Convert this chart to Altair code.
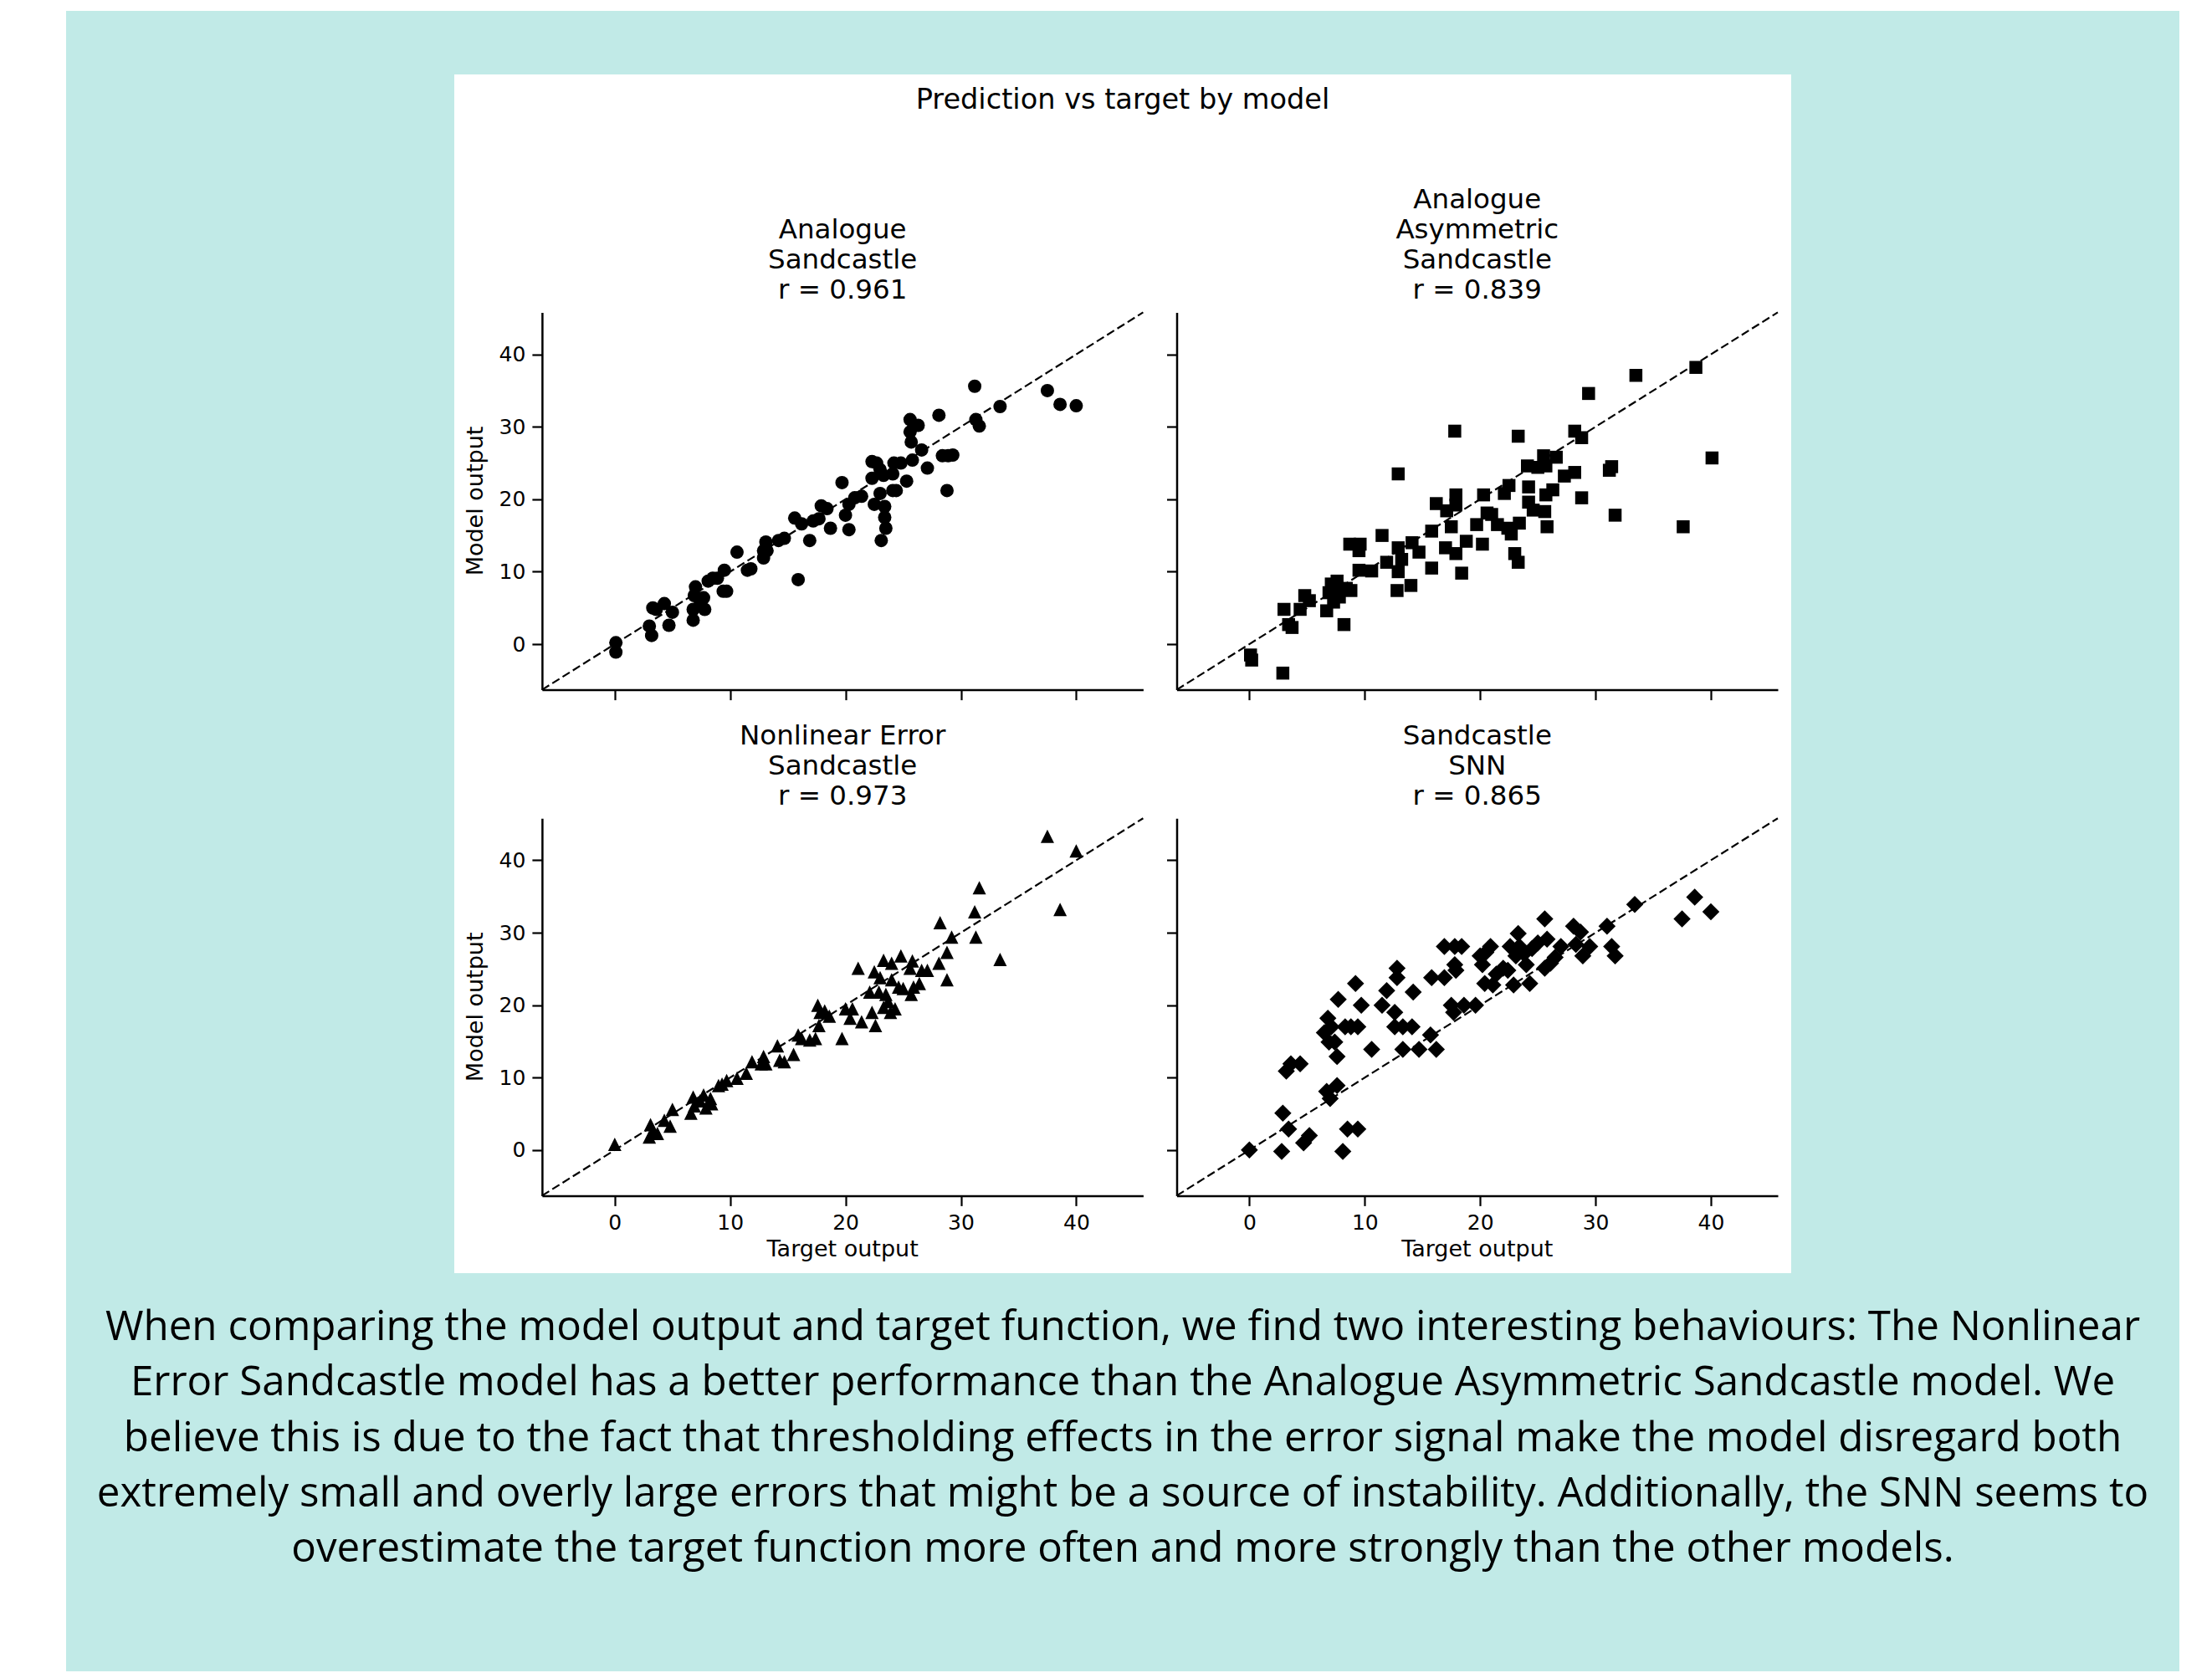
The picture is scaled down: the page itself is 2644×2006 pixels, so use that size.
import altair as alt
import pandas as pd

W, H = 2628, 1990

# ---------------- data ----------------
analogue_target = [0.1, 0.1, 3.0, 3.2, 3.3, 4.3, 4.7, 5.0, 3.6, 6.8,
                   6.8, 6.9, 7.0, 7.4, 7.8, 7.7, 8.1, 8.5, 8.9, 9.4,
                   9.5, 9.7, 10.6, 11.5, 11.8, 12.9, 12.9, 13.1, 13.2, 14.2,
                   14.7, 15.6, 15.9, 16.2, 16.9, 17.2, 17.7, 17.9, 18.4, 18.7,
                   19.7, 20.0, 20.3, 20.3, 20.8, 21.4, 22.3, 22.3, 22.5, 22.7,
                   23.0, 23.1, 23.0, 23.3, 23.4, 23.4, 23.5, 24.1, 24.2, 24.1,
                   24.4, 24.8, 25.3, 25.6, 25.6, 25.7, 25.8, 26.3, 26.6, 27.1,
                   28.1, 28.4, 28.8, 28.9, 29.3, 31.2, 31.3, 31.6, 33.4, 37.5,
                   38.6, 40.0]
analogue_output = [0.2, -1.1, 2.5, 1.2, 5.0, 5.6, 2.6, 4.4, 4.8, 3.3,
                   4.8, 6.7, 7.9, 6.0, 4.8, 6.4, 8.7, 9.1, 9.1, 7.3,
                   10.2, 7.3, 12.7, 10.2, 10.4, 11.9, 12.9, 14.1, 12.9, 14.3,
                   14.6, 17.4, 8.9, 16.6, 14.3, 17.0, 17.3, 19.1, 18.7, 16.0,
                   22.3, 17.8, 15.8, 19.3, 20.2, 20.4, 22.9, 25.2, 19.3, 25.0,
                   24.1, 14.3, 20.8, 23.3, 19.0, 17.5, 16.0, 23.5, 25.0, 21.2,
                   21.2, 25.0, 22.5, 31.0, 29.3, 27.9, 25.4, 30.2, 26.8, 24.3,
                   31.6, 26.0, 21.2, 26.0, 26.1, 35.6, 31.0, 30.1, 32.8, 35.0,
                   33.1, 32.9]

asym_target = [0.1, 0.2, 2.9, 3.0, 3.4, 3.7, 4.4, 4.8, 5.2, 6.7,
               6.9, 7.1, 7.3, 7.5, 7.6, 7.8, 8.2, 8.4, 8.8, 8.7,
               9.5, 9.6, 9.5, 10.6, 11.5, 11.9, 12.9, 12.9, 12.9, 12.8,
               13.2, 14.0, 14.1, 14.7, 15.8, 15.8, 16.2, 17.0, 17.1, 17.5,
               17.8, 17.9, 17.9, 17.9, 18.4, 18.8, 19.7, 20.2, 20.3, 20.6,
               21.0, 21.5, 22.1, 22.5, 22.4, 22.7, 23.0, 23.3, 23.3, 23.4,
               24.1, 24.2, 24.2, 24.6, 25.0, 25.5, 25.7, 25.7, 25.6, 25.8,
               26.3, 26.6, 27.3, 28.2, 28.2, 28.8, 28.8, 29.4, 31.2, 31.4,
               31.7, 33.5, 37.6, 38.7, 40.1]
asym_output = [-1.5, -2.2, -4.0, 4.8, 2.7, 2.3, 4.8, 6.7, 6.0, 4.6,
               7.1, 8.3, 5.8, 7.5, 8.7, 6.5, 2.7, 7.7, 7.4, 13.8,
               12.9, 13.8, 10.2, 10.1, 15.0, 11.3, 23.5, 13.3, 10.0, 7.4,
               11.7, 8.1, 14.0, 12.7, 10.5, 15.6, 19.4, 13.3, 18.4, 16.2,
               29.4, 20.6, 19.2, 12.5, 9.8, 14.2, 16.5, 13.8, 20.6, 18.1,
               17.9, 16.5, 20.8, 21.9, 16.0, 15.2, 12.5, 11.3, 28.7, 16.7,
               24.6, 21.7, 19.6, 18.5, 24.4, 26.0, 24.6, 20.6, 18.3, 16.2,
               21.3, 25.8, 23.2, 23.7, 29.4, 28.5, 20.2, 34.6, 24.0, 24.5,
               17.8, 37.1, 16.2, 38.2, 25.7]

nonlin_target = [0.0, 3.0, 3.1, 3.3, 3.7, 4.3, 4.8, 5.0, 6.6, 6.8,
                 6.9, 7.4, 7.7, 7.9, 8.3, 8.4, 9.0, 9.3, 9.7, 10.6,
                 11.4, 11.9, 12.7, 12.9, 13.1, 14.1, 14.3, 14.7, 15.5, 15.9,
                 16.2, 16.9, 17.4, 17.6, 17.7, 17.8, 18.2, 18.6, 19.7, 20.0,
                 20.4, 20.6, 21.1, 21.4, 22.1, 22.3, 22.5, 22.6, 22.9, 23.0,
                 23.3, 23.3, 23.5, 23.7, 23.9, 24.0, 24.0, 24.3, 24.6, 24.8,
                 25.0, 25.6, 25.8, 25.7, 25.9, 26.4, 26.6, 27.1, 28.1, 28.2,
                 28.8, 28.8, 29.2, 31.2, 31.3, 31.6, 33.4, 37.5, 38.6, 40.0]
nonlin_output = [0.8, 1.8, 3.5, 2.5, 2.3, 4.1, 3.3, 5.6, 5.1, 7.3,
                 6.1, 6.8, 7.6, 5.8, 7.1, 6.4, 8.9, 9.1, 9.6, 9.9,
                 10.6, 12.2, 11.9, 12.9, 11.9, 14.4, 12.4, 12.2, 13.2, 15.9,
                 15.4, 15.2, 15.4, 20.0, 17.2, 19.0, 19.2, 18.5, 15.4, 19.5,
                 18.2, 19.5, 25.1, 17.7, 21.8, 19.0, 24.6, 17.2, 21.8, 23.8,
                 26.2, 19.7, 21.5, 20.5, 19.0, 23.5, 25.8, 19.5, 22.5, 26.8,
                 22.3, 25.1, 26.1, 21.5, 22.5, 23.0, 24.8, 24.8, 25.8, 31.4,
                 27.3, 23.5, 29.4, 32.9, 29.4, 36.2, 26.3, 43.3, 33.2, 41.3]

snn_target = [0.0, 2.9, 3.4, 2.8, 3.2, 3.6, 4.4, 4.7, 5.2, 6.7,
              7.0, 7.6, 6.8, 6.5, 6.9, 7.1, 7.4, 7.6, 7.7, 8.1,
              8.5, 8.3, 8.8, 9.2, 9.4, 9.4, 9.7, 10.6, 11.5, 11.9,
              12.6, 12.8, 12.8, 12.6, 13.3, 13.3, 14.1, 14.2, 14.7, 15.7,
              15.8, 16.2, 16.9, 16.9, 17.5, 17.7, 17.8, 17.8, 17.9, 18.4,
              18.6, 19.6, 20.0, 20.2, 20.4, 20.5, 20.9, 21.1, 21.4, 22.0,
              22.4, 22.6, 22.9, 23.3, 23.1, 23.4, 23.8, 24.0, 24.3, 24.5,
              25.0, 25.6, 25.6, 25.8, 26.1, 26.5, 27.0, 28.1, 28.3, 28.7,
              28.9, 29.5, 31.0, 31.4, 31.7, 33.4, 37.5, 38.6, 40.0]
snn_output = [0.0, 5.1, 2.9, -0.2, 10.9, 11.9, 11.9, 1.0, 2.0, 8.1,
              7.1, 8.9, 18.2, 16.2, 14.9, 17.0, 14.9, 12.9, 20.8, -0.2,
              2.9, 17.0, 17.0, 23.0, 17.0, 2.9, 20.0, 13.9, 20.0, 22.0,
              19.0, 25.1, 23.8, 17.0, 17.0, 13.9, 17.0, 21.8, 13.9, 15.9,
              23.8, 13.9, 23.8, 28.1, 20.0, 19.0, 25.6, 28.1, 24.8, 28.1,
              20.0, 20.0, 26.8, 25.6, 23.0, 27.3, 28.1, 22.8, 24.3, 25.1,
              24.8, 28.1, 22.8, 29.9, 26.8, 28.1, 27.1, 25.6, 23.0, 27.8,
              28.6, 31.9, 25.1, 29.1, 25.8, 26.6, 28.1, 30.9, 28.4, 30.1,
              26.8, 28.1, 30.9, 28.1, 26.8, 33.9, 31.9, 34.9, 32.9]

panel_titles = ["Analogue\n\u00a0Sandcastle\nr = 0.961",
                "Analogue\n\u00a0Asymmetric\n\u00a0Sandcastle\nr = 0.839",
                "Nonlinear Error\n\u00a0Sandcastle\nr = 0.973",
                "Sandcastle\n\u00a0SNN\nr = 0.865"]

axis_limits = [-6.3, 45.8]
tick_values = [0, 10, 20, 30, 40]

main_title = "Prediction vs target by model"
x_title = "Target output"
y_title = "Model output"
caption = ("When comparing the model output and target function, we find two interesting behaviours: The Nonlinear\n"
           "Error Sandcastle model has a better performance than the Analogue Asymmetric Sandcastle model. We\n"
           "believe this is due to the fact that thresholding effects in the error signal make the model disregard both\n"
           "extremely small and overly large errors that might be a source of instability. Additionally, the SNN seems to\n"
           "overestimate the target function more often and more strongly than the other models.")

for a, b in [(analogue_target, analogue_output), (asym_target, asym_output),
             (nonlin_target, nonlin_output), (snn_target, snn_output)]:
    assert len(a) == len(b), (len(a), len(b))

# ---------------- layout (pixels in chart coordinates) ----------------
COL_RANGE = [[639.9, 1358.4], [1398.5, 2117.0]]
ROW_RANGE = [[816.6, 365.4], [1421.4, 970.2]]
TEAL = "#c1eae7"
FONT = "DejaVu Sans"

layers = []

def box(x1, x2, y1, y2, color):
    return alt.Chart(pd.DataFrame({"k": [0]})).mark_rect(color=color).encode(
        x=alt.value(x1), x2=alt.value(x2), y=alt.value(y1), y2=alt.value(y2))

def label(text, x, y, size, font=FONT, angle=0, baseline="alphabetic", line_height=None):
    kw = dict(font=font, fontSize=size, color="black", align="center",
              baseline=baseline, lineBreak="\n")
    if angle:
        kw["angle"] = angle
    if line_height:
        kw["lineHeight"] = line_height
    return alt.Chart(pd.DataFrame({"s": [text]})).mark_text(**kw).encode(
        x=alt.value(x), y=alt.value(y), text="s:N")

layers.append(box(71, 2597, 5, H, TEAL))
layers.append(box(535, 2133, 81, 1514, "white"))
layers.append(label(main_title, 1334, 122, 33.6))

panels = [
    (analogue_target, analogue_output, "circle", 256, 0, 0),
    (asym_target, asym_output, "square", 240, 1, 0),
    (nonlin_target, nonlin_output, "M0,-1L1,1L-1,1Z", 256, 0, 1),
    (snn_target, snn_output, "diamond", 420, 1, 1),
]

for i, (tx, ty, shape, size, c, r) in enumerate(panels):
    xr, yr = COL_RANGE[c], ROW_RANGE[r]
    xs = alt.Scale(domain=axis_limits, range=xr, nice=False, zero=False)
    ys = alt.Scale(domain=axis_limits, range=yr, nice=False, zero=False)
    common = dict(values=tick_values, grid=False, title=None, zindex=2,
                  domainColor="black", domainWidth=2.5, tickColor="black",
                  tickWidth=2.2, tickSize=12, labelFont=FONT, labelFontSize=25,
                  labelColor="black", labelPadding=8)
    xaxis = alt.Axis(orient="bottom", offset=yr[0] - H, labels=(r == 1), **common)
    yaxis = alt.Axis(orient="left", offset=-xr[0], labels=(c == 0), **common)
    diag = alt.Chart(pd.DataFrame({"t": axis_limits, "m": axis_limits})).mark_line(
        color="black", strokeDash=[10, 4.5], strokeWidth=2.2).encode(
        x=alt.X("t:Q", scale=xs, axis=None), y=alt.Y("m:Q", scale=ys, axis=None))
    pts = alt.Chart(pd.DataFrame({"t": tx, "m": ty})).mark_point(
        shape=shape, size=size, filled=True, color="black", opacity=1).encode(
        x=alt.X("t:Q", scale=xs, axis=xaxis), y=alt.Y("m:Q", scale=ys, axis=yaxis))
    layers.append(pts)
    layers.append(diag)
    cx = (xr[0] + xr[1]) / 2
    n_lines = panel_titles[i].count("\n") + 1
    last_base = 349 if r == 0 else 954
    layers.append(label(panel_titles[i], cx, last_base - 36 * (n_lines - 1), 32.5, line_height=36))
    if r == 1:
        layers.append(label(x_title, cx, 1494, 27))
    if c == 0:
        layers.append(label(y_title, 561, (yr[0] + yr[1]) / 2, 27, angle=270, baseline="middle"))

layers.append(label(caption, 1334, 1594, 49.3, font="Open Sans", line_height=66.3))

chart = alt.layer(*layers).resolve_scale(x="independent", y="independent").resolve_axis(
    x="independent", y="independent").properties(
    width=W, height=H, autosize=alt.AutoSizeParams(type="none"), padding=0,
    background="white").configure_view(stroke="transparent")

chart.save("out.html", embed_options={"renderer": "svg", "actions": False})
